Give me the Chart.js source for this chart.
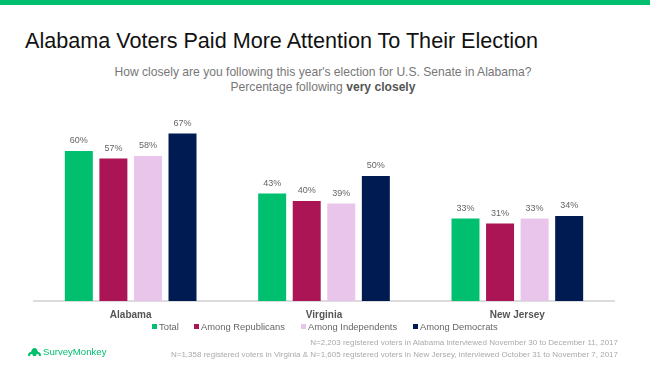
<!DOCTYPE html>
<html>
<head>
<meta charset="utf-8">
<script src="https://cdn.jsdelivr.net/npm/chart.js@4.4.1/dist/chart.umd.min.js"></script>
<style>
  html,body{margin:0;padding:0;background:#fff;}
  body{width:650px;height:366px;position:relative;overflow:hidden;font-family:"Liberation Sans",Arial,sans-serif;}
  #topbar{position:absolute;left:0;top:0;width:650px;height:5px;background:#00BF6F;}
  #title{position:absolute;left:25px;top:28px;font-size:21.6px;color:#111;white-space:nowrap;line-height:26px;}
  .sub{position:absolute;left:0;width:646px;text-align:center;font-size:12.1px;color:#777;white-space:nowrap;line-height:15px;}
  .sub b{color:#555;}
  #chart{position:absolute;left:0;top:0;}
  #legend{position:absolute;top:320px;left:0;width:650px;height:14px;font-size:9.4px;color:#666;}
  .li{position:absolute;top:0;white-space:nowrap;line-height:14px;}
  .sw{position:absolute;top:4px;width:5px;height:5px;}
  .foot{position:absolute;right:32px;font-size:8px;color:#aaa;white-space:nowrap;line-height:11px;}
  #logo{position:absolute;left:27px;top:346px;height:12px;font-size:9.6px;color:#00BF6F;white-space:nowrap;line-height:12px;}
  #logo svg{position:absolute;left:0;top:1px;}
  #logo span{position:absolute;left:16px;top:0;}
</style>
</head>
<body>
<div id="topbar"></div>
<div id="title">Alabama Voters Paid More Attention To Their Election</div>
<div class="sub" style="top:65px;">How closely are you following this year's election for U.S. Senate in Alabama?</div>
<div class="sub" style="top:80px;">Percentage following <b>very closely</b></div>
<canvas id="chart" width="650" height="329"></canvas>
<div id="legend"></div>
<div class="foot" style="top:337px;">N=2,203 registered voters in Alabama interviewed November 30 to December 11, 2017</div>
<div class="foot" style="top:349px;">N=1,358 registered voters in Virginia &amp; N=1,605 registered voters in New Jersey, interviewed October 31 to November 7, 2017</div>
<div id="logo"><svg width="15" height="10" viewBox="0 0 15 10"><path d="M1 9 Q1 5 4 5 Q5 1 7.5 1 Q10 1 11 5 Q14 5 14 9 L12 9 Q12 7 10.5 7 Q9 7 9 9 L6 9 Q6 7 4.5 7 Q3 7 3 9 Z" fill="#00BF6F"/></svg><span>SurveyMonkey</span></div>
<script>
const categories = ["Alabama", "Virginia", "New Jersey"];
const seriesNames = ["Total", "Among Republicans", "Among Independents", "Among Democrats"];
const total = [60, 43, 33];
const republicans = [57, 40, 31];
const independents = [58, 39, 33];
const democrats = [67, 50, 34];
const colors = ["#00BF6F", "#AB1455", "#E9C5EC", "#001A52"];

const seriesValues = [total, republicans, independents, democrats];

const valueLabels = {
  id: 'valueLabels',
  afterDatasetsDraw(chart) {
    const ctx = chart.ctx;
    ctx.save();
    ctx.font = '9px "Liberation Sans", Arial, sans-serif';
    ctx.fillStyle = '#666';
    ctx.textAlign = 'center';
    ctx.textBaseline = 'middle';
    chart.data.datasets.forEach((ds, i) => {
      chart.getDatasetMeta(i).data.forEach((el, j) => {
        ctx.fillText(ds.data[j] + '%', el.x, el.y - 10);
      });
    });
    ctx.restore();
  }
};

new Chart(document.getElementById('chart'), {
  type: 'bar',
  data: {
    labels: categories,
    datasets: seriesNames.map((n, i) => ({
      label: n,
      data: seriesValues[i],
      backgroundColor: colors[i],
      categoryPercentage: 0.715,
      barPercentage: 0.81
    }))
  },
  options: {
    responsive: false,
    devicePixelRatio: 1,
    animation: false,
    layout: { padding: { left: 34, right: 36, top: 126, bottom: 0 } },
    plugins: { legend: { display: false }, tooltip: { enabled: false } },
    scales: {
      y: { display: false, min: 0, max: 70 },
      x: {
        grid: { display: true, drawOnChartArea: false, drawTicks: false, color: 'rgba(0,0,0,0)' },
        border: { display: true, color: '#dcdcdc', width: 2 },
        ticks: { padding: 8, color: '#555', font: { family: '"Liberation Sans", Arial, sans-serif', size: 10, weight: 'bold' } }
      }
    }
  },
  plugins: [valueLabels]
});

// HTML legend built from series names
const legendPos = [152, 194, 301, 413];
const legend = document.getElementById('legend');
seriesNames.forEach((n, i) => {
  const d = document.createElement('div');
  d.className = 'li';
  d.style.left = legendPos[i] + 'px';
  d.innerHTML = '<div class="sw" style="background:' + colors[i] + '"></div><span style="margin-left:7px">' + n + '</span>';
  legend.appendChild(d);
});
</script>
</body>
</html>
